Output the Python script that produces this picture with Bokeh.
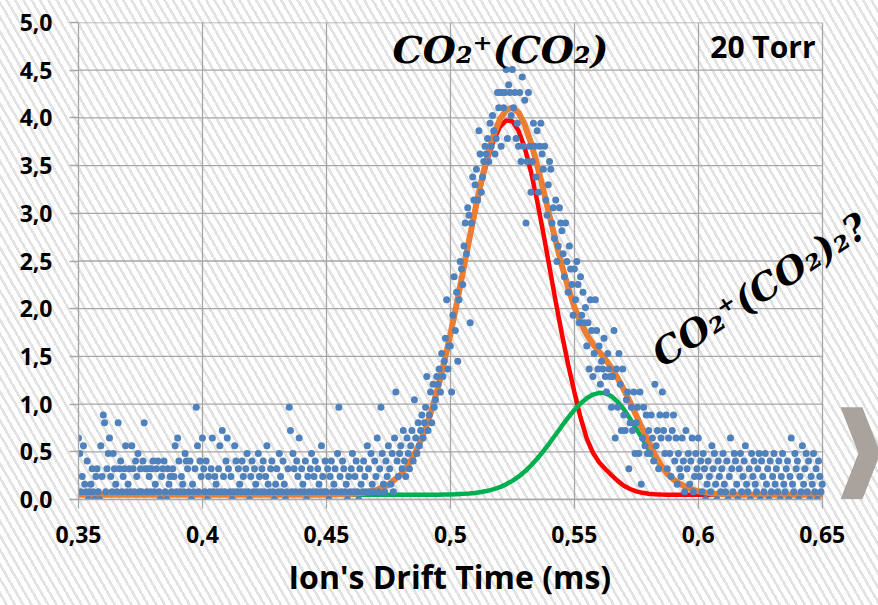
import numpy as np
from bokeh.plotting import figure
from bokeh.models import FixedTicker, Label, PolyAnnotation, InlineStyleSheet, Title
from bokeh.embed import file_html
from bokeh.resources import INLINE

# ---------------- data ----------------
X_START = 0.35      # first sample (ms)
X_STEP = 0.0005     # sample spacing (ms)
LEVEL = 0.0805      # signal quantisation step

# measured signal, in quantisation levels, 100 samples per 0.05 ms
sig_350_399 = [8,6,1,3,7,2,1,5,0,1,2,4,1,0,3,4,1,0,7,3,
               11,10,1,4,6,8,3,1,6,4,2,1,10,4,5,1,3,4,7,1,
               2,4,1,7,4,1,5,3,6,1,4,1,5,10,4,1,4,3,1,4,
               5,1,2,4,5,1,0,3,4,5,1,0,4,2,3,1,4,3,7,1,
               8,5,1,3,2,1,6,5,4,1,5,0,2,1,4,12,7,1,5,3]
sig_400_449 = [8,4,1,5,0,3,1,4,8,1,3,2,1,4,7,1,9,3,1,5,
               8,4,1,3,0,1,7,5,1,4,2,1,5,3,1,4,6,1,0,3,
               5,1,4,2,1,6,3,1,4,5,1,3,7,2,1,4,5,1,0,2,
               4,1,6,3,1,5,2,0,1,4,12,9,1,6,4,1,5,3,8,1,
               4,2,1,5,0,3,1,4,6,1,3,5,1,4,2,1,7,3,1,5]
sig_450_499 = [1,4,0,3,5,1,2,4,1,6,12,3,1,5,4,1,2,0,3,1,
               4,6,1,3,5,1,0,4,2,1,5,3,1,7,4,1,6,2,1,5,
               3,8,1,4,12,6,2,1,5,3,7,4,2,6,1,8,14,5,3,6,
               7,4,9,5,3,8,6,4,7,9,5,13,8,6,10,7,9,11,8,10,
               12,16,9,11,14,10,15,12,13,16,15,17,14,19,16,18,21,26,17,20]
sig_500_549 = [20,14,24,29,22,27,18,26,31,30,28,33,36,32,38,37,23,36,42,39,
               41,43,39,48,45,40,42,44,46,45,47,44,49,46,50,48,45,47,53,51,
               53,46,53,51,53,56,47,54,53,50,56,51,53,47,49,46,53,44,55,46,
               52,36,44,53,46,40,44,49,46,42,48,40,46,49,45,43,46,39,37,41,
               44,43,36,38,34,39,31,33,38,36,35,32,29,36,31,27,33,30,28,24]
sig_550_599 = [30,26,31,28,23,29,24,27,23,25,20,23,17,26,22,16,19,26,22,17,
               20,15,18,17,21,16,14,19,17,16,12,16,22,8,17,12,19,15,9,17,
               11,9,13,14,4,10,12,9,14,6,10,12,6,14,2,8,12,7,11,6,
               9,6,11,8,5,15,7,9,4,11,8,14,9,6,11,4,8,6,3,9,
               11,5,8,2,6,4,3,8,5,1,9,4,6,2,5,8,1,3,6,4]
sig_600_650 = [8,3,5,1,6,4,0,2,5,3,1,7,4,6,2,0,5,3,1,4,
               6,2,1,5,0,3,8,4,1,6,5,2,0,4,6,1,3,5,7,2,
               1,4,0,6,3,5,2,1,4,6,0,5,3,1,6,2,4,0,5,1,
               3,6,2,4,1,5,0,3,6,2,1,4,5,0,3,8,2,1,6,4,
               5,0,3,1,7,2,4,6,1,5,0,3,2,6,1,4,0,5,3,1,2]

# fitted curves
curve_x = [0.35, 0.40, 0.45, 0.46, 0.465, 0.47, 0.475, 0.48, 0.4825, 0.485,
           0.4875, 0.49, 0.4925, 0.495, 0.4975, 0.5, 0.5025, 0.505, 0.5075, 0.51,
           0.5125, 0.515, 0.5175, 0.52, 0.5225, 0.525, 0.5275, 0.53, 0.5325, 0.535,
           0.5375, 0.54, 0.5425, 0.545, 0.5475, 0.55, 0.5525, 0.555, 0.5575, 0.56,
           0.5625, 0.565, 0.5675, 0.57, 0.5725, 0.575, 0.5775, 0.58, 0.5825, 0.585,
           0.5875, 0.59, 0.5925, 0.595, 0.5975, 0.6, 0.605, 0.61, 0.615, 0.62,
           0.63, 0.65]
red_y = [0.05, 0.05, 0.05, 0.058, 0.07, 0.097, 0.154, 0.262, 0.344, 0.45,
         0.582, 0.745, 0.942, 1.172, 1.435, 1.726, 2.039, 2.368, 2.698, 3.017,
         3.311, 3.565, 3.768, 3.906, 3.974, 3.964, 3.866, 3.686, 3.437, 3.132,
         2.792, 2.434, 2.075, 1.732, 1.415, 1.13, 0.86, 0.64, 0.49, 0.39,
         0.32, 0.255, 0.195, 0.145, 0.11, 0.085, 0.07, 0.061, 0.056, 0.053,
         0.051, 0.05, 0.05, 0.05, 0.05, 0.05, 0.05, 0.05, 0.05, 0.05,
         0.05, 0.05]
green_y = [0.05, 0.05, 0.05, 0.05, 0.05, 0.05, 0.05, 0.05, 0.05, 0.05,
           0.05, 0.05, 0.051, 0.051, 0.052, 0.053, 0.056, 0.059, 0.063, 0.069,
           0.078, 0.091, 0.108, 0.13, 0.159, 0.195, 0.239, 0.293, 0.356, 0.427,
           0.506, 0.592, 0.681, 0.771, 0.858, 0.938, 1.007, 1.062, 1.10, 1.118,
           1.115, 1.083, 1.024, 0.944, 0.847, 0.742, 0.634, 0.53, 0.433, 0.347,
           0.275, 0.215, 0.168, 0.132, 0.105, 0.086, 0.064, 0.055, 0.051, 0.05,
           0.05, 0.05]
orange_y = [0.05, 0.05, 0.05, 0.058, 0.07, 0.097, 0.154, 0.262, 0.344, 0.45,
            0.582, 0.745, 0.943, 1.173, 1.437, 1.729, 2.045, 2.377, 2.711, 3.036,
            3.339, 3.606, 3.826, 3.986, 4.083, 4.109, 4.055, 3.929, 3.743, 3.509,
            3.248, 2.976, 2.706, 2.453, 2.223, 2.02, 1.86, 1.73, 1.63, 1.55,
            1.47, 1.38, 1.27, 1.15, 1.02, 0.88, 0.74, 0.60, 0.47, 0.36,
            0.27, 0.21, 0.165, 0.13, 0.105, 0.086, 0.064, 0.055, 0.051, 0.05,
            0.05, 0.05]

x_ticks = [0.35, 0.4, 0.45, 0.5, 0.55, 0.6, 0.65]
x_labels = ["0,35", "0,4", "0,45", "0,5", "0,55", "0,6", "0,65"]
y_ticks = [0.0, 0.5, 1.0, 1.5, 2.0, 2.5, 3.0, 3.5, 4.0, 4.5, 5.0]
y_labels = ["0,0", "0,5", "1,0", "1,5", "2,0", "2,5", "3,0", "3,5", "4,0", "4,5", "5,0"]

x_title = "Ion's Drift Time (ms)"
peak1_label = "CO\u2082\u207a(CO\u2082)"
peak2_label = "CO\u2082\u207a(CO\u2082)\u2082?"
pressure_label = "20 Torr"

# ---------------- build ----------------
levels = (sig_350_399 + sig_400_449 + sig_450_499 + sig_500_549
          + sig_550_599 + sig_600_650)
sig_y = np.array(levels, dtype=float) * LEVEL
sig_x = X_START + X_STEP * np.arange(len(levels))

GRID = "#a6a6a6"
X_MIN, X_MAX = x_ticks[0], x_ticks[-1]
Y_MIN, Y_MAX = y_ticks[0], y_ticks[-1]

STRIPES = ("repeating-linear-gradient(60deg, #ffffff 0px, #ffffff 4.6px, "
           "#e2e2e2 4.6px, #e2e2e2 7.2px)")

# frame runs on to the right edge of the page so that the side notes fit
p = figure(width=878, height=605, x_range=(X_MIN, 0.6727), y_range=(Y_MIN, Y_MAX),
           output_backend="svg", toolbar_location=None,
           min_border_left=78, min_border_right=0,
           min_border_top=22, min_border_bottom=106)
p.border_fill_color = None
p.background_fill_color = None
p.outline_line_color = None
p.styles = {"background": STRIPES}
p.stylesheets = [InlineStyleSheet(css=":host { background: %s !important; } "
                                      ".bk-Canvas { background: %s !important; }"
                                      % (STRIPES, STRIPES))]

xt = FixedTicker(ticks=x_ticks)
yt = FixedTicker(ticks=y_ticks)
p.xaxis.ticker = xt
p.yaxis.ticker = yt
p.xgrid.ticker = xt
p.xaxis.bounds = (X_MIN, X_MAX)
p.yaxis.bounds = (Y_MIN, Y_MAX)
p.xaxis.major_label_overrides = dict(zip(x_ticks, x_labels))
p.yaxis.major_label_overrides = dict(zip(y_ticks, y_labels))

p.xgrid.grid_line_color = GRID
p.xgrid.grid_line_width = 1.3
p.ygrid.visible = False
# horizontal grid lines only across the data area
p.segment(x0=[X_MIN] * len(y_ticks), y0=y_ticks, x1=[X_MAX] * len(y_ticks), y1=y_ticks,
          line_color=GRID, line_width=1.3)

for ax in (p.xaxis, p.yaxis):
    ax.axis_line_color = GRID
    ax.axis_line_width = 1.3
    ax.major_tick_line_color = GRID
    ax.major_tick_line_width = 1.3
    ax.major_tick_in = 0
    ax.major_tick_out = 9
    ax.minor_tick_line_color = None
    ax.major_label_text_font = "Open Sans"
    ax.major_label_text_font_style = "bold"
    ax.major_label_text_font_size = "23px"
    ax.major_label_text_color = "#000000"

p.yaxis.major_label_standoff = 17
p.xaxis.major_label_standoff = 17

# axis title, under the 0.35-0.65 span (frame runs further right)
p.add_layout(Title(text=x_title, align="left", offset=210, standoff=14,
                   text_font="Open Sans", text_font_style="bold",
                   text_font_size="32px", text_color="#000000"), "below")

p.line(curve_x, red_y, line_width=4.5, color="#ff0000")
p.line(curve_x, green_y, line_width=4.5, color="#00b050")
p.line(curve_x, orange_y, line_width=6, color="#ed7d31")
p.scatter(sig_x, sig_y, size=7, fill_color="#4f81bd", line_color=None)

p.add_layout(Label(x=0.4767, y=4.72, text=peak1_label,
                   text_font="DejaVu Serif", text_font_style="bold italic",
                   text_font_size="38px", text_color="#000000",
                   text_align="left", text_baseline="alphabetic"))
p.add_layout(Label(x=0.5828, y=1.49, text=peak2_label, angle=33, angle_units="deg",
                   text_font="DejaVu Serif", text_font_style="bold italic",
                   text_font_size="37px", text_color="#000000",
                   text_align="left", text_baseline="alphabetic"))
p.add_layout(Label(x=0.6473, y=4.75, text=pressure_label,
                   text_font="Open Sans", text_font_style="bold",
                   text_font_size="30px", text_color="#000000",
                   text_align="right", text_baseline="alphabetic"))

p.add_layout(PolyAnnotation(xs=[0.6574, 0.6662, 0.6735, 0.6662, 0.6574, 0.6646],
                            ys=[0.966, 0.966, 0.485, 0.003, 0.003, 0.485],
                            fill_color="#a9a29d", fill_alpha=1.0, line_color=None))

open("out.html", "w").write(file_html(p, INLINE))
